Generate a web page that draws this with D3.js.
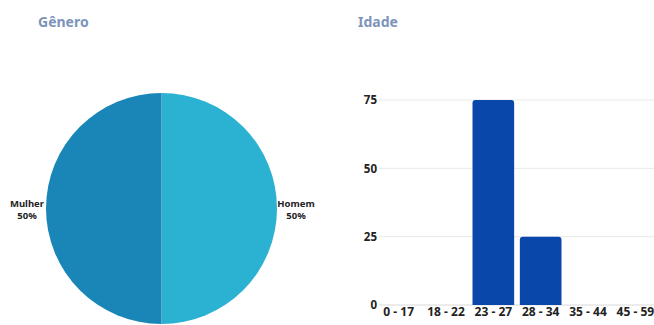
<!DOCTYPE html>
<html>
<head>
<meta charset="utf-8">
<script src="https://cdn.jsdelivr.net/npm/d3@7"></script>
<style>
  body { margin: 0; background: #fff; }
  svg { display: block; font-family: "Noto Sans", "Open Sans", sans-serif; }
</style>
</head>
<body>
<svg id="chart" width="654" height="325"></svg>
<script>
// gender pie
var genderLabels = ["Homem", "Mulher"];
var genderValues = [50, 50];
var genderColors = ["#2bb2d3", "#1a86b8"];

// age bars
var ageGroups = ["0 - 17", "18 - 22", "23 - 27", "28 - 34", "35 - 44", "45 - 59"];
var ageValues = [0, 0, 75, 25, 0, 0];
var yTicks = [0, 25, 50, 75];

var svg = d3.select("#chart");

// titles
svg.append("text").attr("x", 38).attr("y", 27)
  .style("font-size", "14px").style("font-weight", "bold").style("fill", "#7d94ba")
  .text("Gênero");
svg.append("text").attr("x", 358).attr("y", 27)
  .style("font-size", "14px").style("font-weight", "bold").style("fill", "#7d94ba")
  .text("Idade");

// ---- pie ----
var cx = 161.5, cy = 208.5, r = 115.5;
var pie = d3.pie().sort(null).value(function(d) { return d; });
var arc = d3.arc().innerRadius(0).outerRadius(r);
var g = svg.append("g").attr("transform", "translate(" + cx + "," + cy + ")");
var arcs = pie(genderValues);
g.selectAll("path").data(arcs).enter().append("path")
  .attr("d", arc)
  .attr("fill", function(d, i) { return genderColors[i]; });

// labels outside the pie, left/right
var labelArc = d3.arc().innerRadius(134.5).outerRadius(134.5);
var lbl = g.selectAll(".lbl").data(arcs).enter().append("text")
  .attr("class", "lbl")
  .attr("transform", function(d) {
    var c = labelArc.centroid(d);
    return "translate(" + c[0] + "," + c[1] + ")";
  })
  .attr("text-anchor", "middle")
  .style("font-size", "9.5px").style("font-weight", "bold").style("fill", "#222");
lbl.append("tspan").attr("x", 0).attr("y", -2)
  .text(function(d, i) { return genderLabels[i]; });
lbl.append("tspan").attr("x", 0).attr("y", 10)
  .text(function(d) { return d.value + "%"; });

// ---- bars ----
var x = d3.scaleBand().domain(ageGroups).range([375, 659]).paddingInner(0.12).paddingOuter(0.06);
var y = d3.scaleLinear().domain([0, 75]).range([305, 100]);

svg.append("g").selectAll("line").data(yTicks).enter().append("line")
  .attr("x1", 379).attr("x2", 654)
  .attr("y1", function(d) { return y(d); }).attr("y2", function(d) { return y(d); })
  .attr("stroke", function(d) { return d == 0 ? "#d8d8d8" : "#e9e9e9"; })
  .attr("stroke-width", 1);

var yAxis = svg.append("g").attr("transform", "translate(378,0)")
  .call(d3.axisLeft(y).tickValues(yTicks).tickSize(0).tickPadding(1));
yAxis.select(".domain").remove();
yAxis.selectAll("text").style("font-size", "11.5px").style("font-weight", "bold")
  .style("fill", "#222").style("font-family", "'Noto Sans', sans-serif");

var rad = 3;
svg.append("g").selectAll("path").data(ageValues).enter().append("path")
  .attr("fill", "#0a47aa")
  .attr("d", function(d, i) {
    if (d <= 0) return null;
    var x0 = x(ageGroups[i]), w = x.bandwidth(), y0 = y(d), y1 = y(0);
    return "M" + x0 + "," + y1 +
      "V" + (y0 + rad) + "Q" + x0 + "," + y0 + " " + (x0 + rad) + "," + y0 +
      "H" + (x0 + w - rad) + "Q" + (x0 + w) + "," + y0 + " " + (x0 + w) + "," + (y0 + rad) +
      "V" + y1 + "Z";
  });

var xAxis = svg.append("g").attr("transform", "translate(0,305)")
  .call(d3.axisBottom(x).tickSize(0).tickPadding(2));
xAxis.select(".domain").remove();
xAxis.selectAll("text").style("font-size", "12px").style("font-weight", "bold")
  .style("fill", "#222").style("font-family", "'Noto Sans', sans-serif");
</script>
</body>
</html>
